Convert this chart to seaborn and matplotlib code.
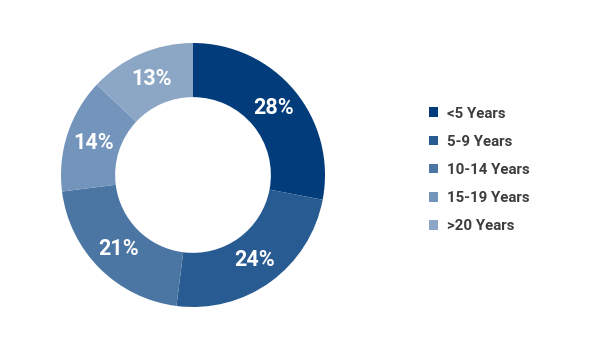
import matplotlib
matplotlib.use("Agg")
import matplotlib.pyplot as plt
import seaborn as sns
import numpy as np
from matplotlib.patches import Patch

categories = ["<5 Years", "5-9 Years", "10-14 Years", "15-19 Years", ">20 Years"]
values = [28, 24, 21, 14, 13]
colors = ["#023C7A", "#285B91", "#4B76A3", "#7394BB", "#8CA7C6"]

sns.set_theme(style="white")
plt.rcParams['font.family'] = ['Roboto', 'DejaVu Sans']

W, H = 598, 352
fig = plt.figure(figsize=(W / 100, H / 100), dpi=100)
cx, cy, R = 193, 175, 132
ax = fig.add_axes([(cx - R) / W, (H - cy - R) / H, 2 * R / W, 2 * R / H])
wedges, _ = ax.pie(values, colors=colors, startangle=90, counterclock=False,
                   radius=1.0, wedgeprops=dict(width=0.41, edgecolor='none'))
ax.set_xlim(-1, 1)
ax.set_ylim(-1, 1)
ax.set_aspect('equal')
ax.axis('off')

total = sum(values)
start = 90.0
for v in values:
    ang = np.deg2rad(start - v / total * 360 / 2)
    r = 0.795
    ax.text(r * np.cos(ang), r * np.sin(ang), f"{v}%", ha='center', va='center',
            color='white', fontsize=15.5, fontweight='bold')
    start -= v / total * 360

handles = [Patch(facecolor=c, edgecolor='none') for c in colors]
leg = fig.legend(handles, categories, loc='center left',
                 bbox_to_anchor=(415 / W, 1 - 170 / H), frameon=False,
                 fontsize=10.8, handlelength=0.6, handleheight=0.6,
                 handletextpad=0.66, labelspacing=0.95)
for t in leg.get_texts():
    t.set_color('#3d3d3d')
    t.set_fontweight('bold')

fig.savefig("out.png", dpi=100, facecolor='white')
